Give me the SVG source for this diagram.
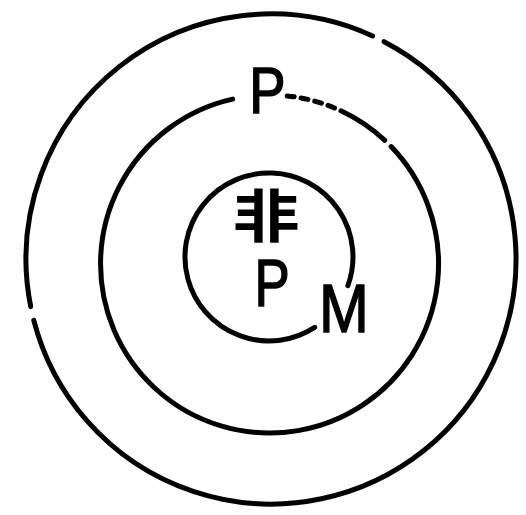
<svg xmlns="http://www.w3.org/2000/svg" width="526" height="515" viewBox="0 0 526 515">
<style>
.ring{fill:none;stroke:#000;stroke-width:5;stroke-linecap:round}
.dot{stroke-dasharray:7 7}
.lat{font-family:"Liberation Sans","DejaVu Sans",sans-serif;fill:#000;stroke:#000;stroke-width:1.5;text-anchor:middle}
.cjk{font-family:"Noto Sans CJK SC","Noto Sans CJK JP",sans-serif;font-weight:700;fill:#000;text-anchor:middle}
</style>
<rect width="526" height="515" fill="#fff"/>
<g id="outer">
<path class="ring" d="M 384.1 41.7 A 245 245 0 1 1 33.8 320.3"/>
<path class="ring" d="M 30.7 306.6 A 245 245 0 0 1 372.6 36.0"/>
</g>
<g id="middle">
<path class="ring" d="M 391.1 146.6 A 169 169 0 1 1 232.6 99.1"/>
<path class="ring" d="M 340.9 110.8 A 169 169 0 0 1 384.8 140.4"/>
<path class="ring dot" d="M 287.2 95.9 A 169 169 0 0 1 340.9 110.8"/>
<text class="lat" font-size="64" transform="translate(267.5,113) scale(0.85,1)">P</text>
</g>
<g id="inner">
<path class="ring" d="M 314.7 327.4 A 84 84 0 1 1 347.9 285.7"/>
<text class="cjk" font-size="56" transform="translate(266,237) scale(1.2,1.02)">非</text>
<text class="lat" font-size="66" transform="translate(272,306) scale(0.8,1)">P</text>
</g>
<g id="m-label">
<text class="lat" font-size="68" transform="translate(344,332) scale(0.88,1)">M</text>
</g>
</svg>
